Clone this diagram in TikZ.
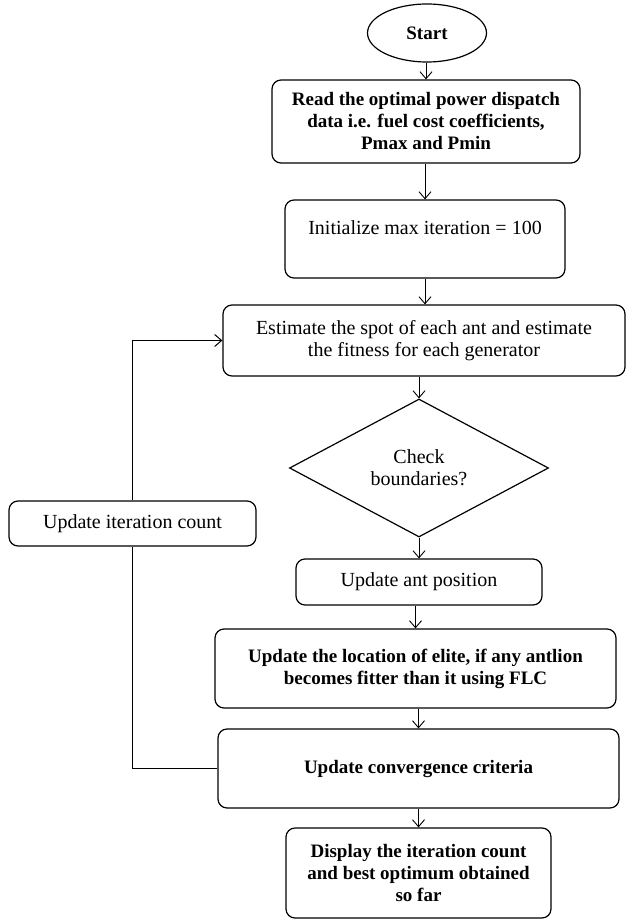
\documentclass[tikz,border=0pt]{standalone}
\usepackage{fontspec}
\setmainfont{Liberation Serif}
\usetikzlibrary{shapes.geometric,arrows.meta}

\begin{document}
\begin{tikzpicture}[x=1pt, y=-1pt,
    every node/.style={font=\fontsize{20}{22}\selectfont, align=center},
    bold/.style={font=\fontsize{19}{22}\selectfont\bfseries},
    box/.style={draw, rounded corners=9pt, line width=1.2pt, inner sep=2pt},
    arr/.style={-{Straight Barb[length=7pt,width=12pt]}, line width=0.9pt}]
    \useasboundingbox (0,0) rectangle (627,920);

    % 1. Start and the steps down the middle
    \node[draw, ellipse, line width=1.2pt, minimum width=119pt, minimum height=58pt, bold] (start) at (427,33) {Start};
    \node[box, bold, minimum width=308pt, minimum height=83pt] (read) at (426,121.5)
        {Read the optimal power dispatch\\data i.e. fuel cost coefficients,\\Pmax and Pmin};
    \node[box, minimum width=280pt, minimum height=78pt] (init) at (425,239)
        {Initialize max iteration = 100\\\mbox{}};
    \node[box, minimum width=402pt, minimum height=71pt] (est) at (424,340.5)
        {Estimate the spot of each ant and estimate\\the fitness for each generator};

    % 2. The decision
    \node[draw, diamond, aspect=1.88, minimum width=259pt, minimum height=138pt, inner sep=0pt, line width=1.2pt] (check) at (419,468)
        {Check\\boundaries?};

    % 3. Update steps and the final output
    \node[box, minimum width=246pt, minimum height=46pt] (ant) at (419,582) {Update ant position};
    \node[box, bold, minimum width=401pt, minimum height=79pt] (loc) at (415.5,668.5)
        {Update the location of elite, if any antlion\\becomes fitter than it using FLC};
    \node[box, bold, minimum width=401pt, minimum height=79pt] (conv) at (418.5,768.5) {Update convergence criteria};
    \node[box, bold, minimum width=265pt, minimum height=90pt] (disp) at (418.5,873)
        {Display the iteration count\\and best optimum obtained\\so far};

    % 4. Loop back on the left
    \node[box, minimum width=247pt, minimum height=45pt] (iter) at (132.5,523.5) {Update iteration count};

    % 5. Arrows
    \draw[arr] (start.south -| read.north) -- (read.north);
    \draw[arr] (read.south -| init.north) -- (init.north);
    \draw[arr] (init.south -| init.north) -- (init.south |- est.north);
    \draw[arr] (est.south -| check.north) -- (check.north);
    \draw[arr] (check.south) -- (check.south |- ant.north);
    \draw[arr] (ant.south -| loc.north) -- (loc.north);
    \draw[arr] (loc.south -| conv.north) -- (conv.north);
    \draw[arr] (conv.south -| disp.north) -- (disp.north);
    \draw[line width=1pt] (conv.west) -| (iter.south);
    \draw[arr, line width=1pt] (iter.north) |- (est.west);
\end{tikzpicture}
\end{document}
